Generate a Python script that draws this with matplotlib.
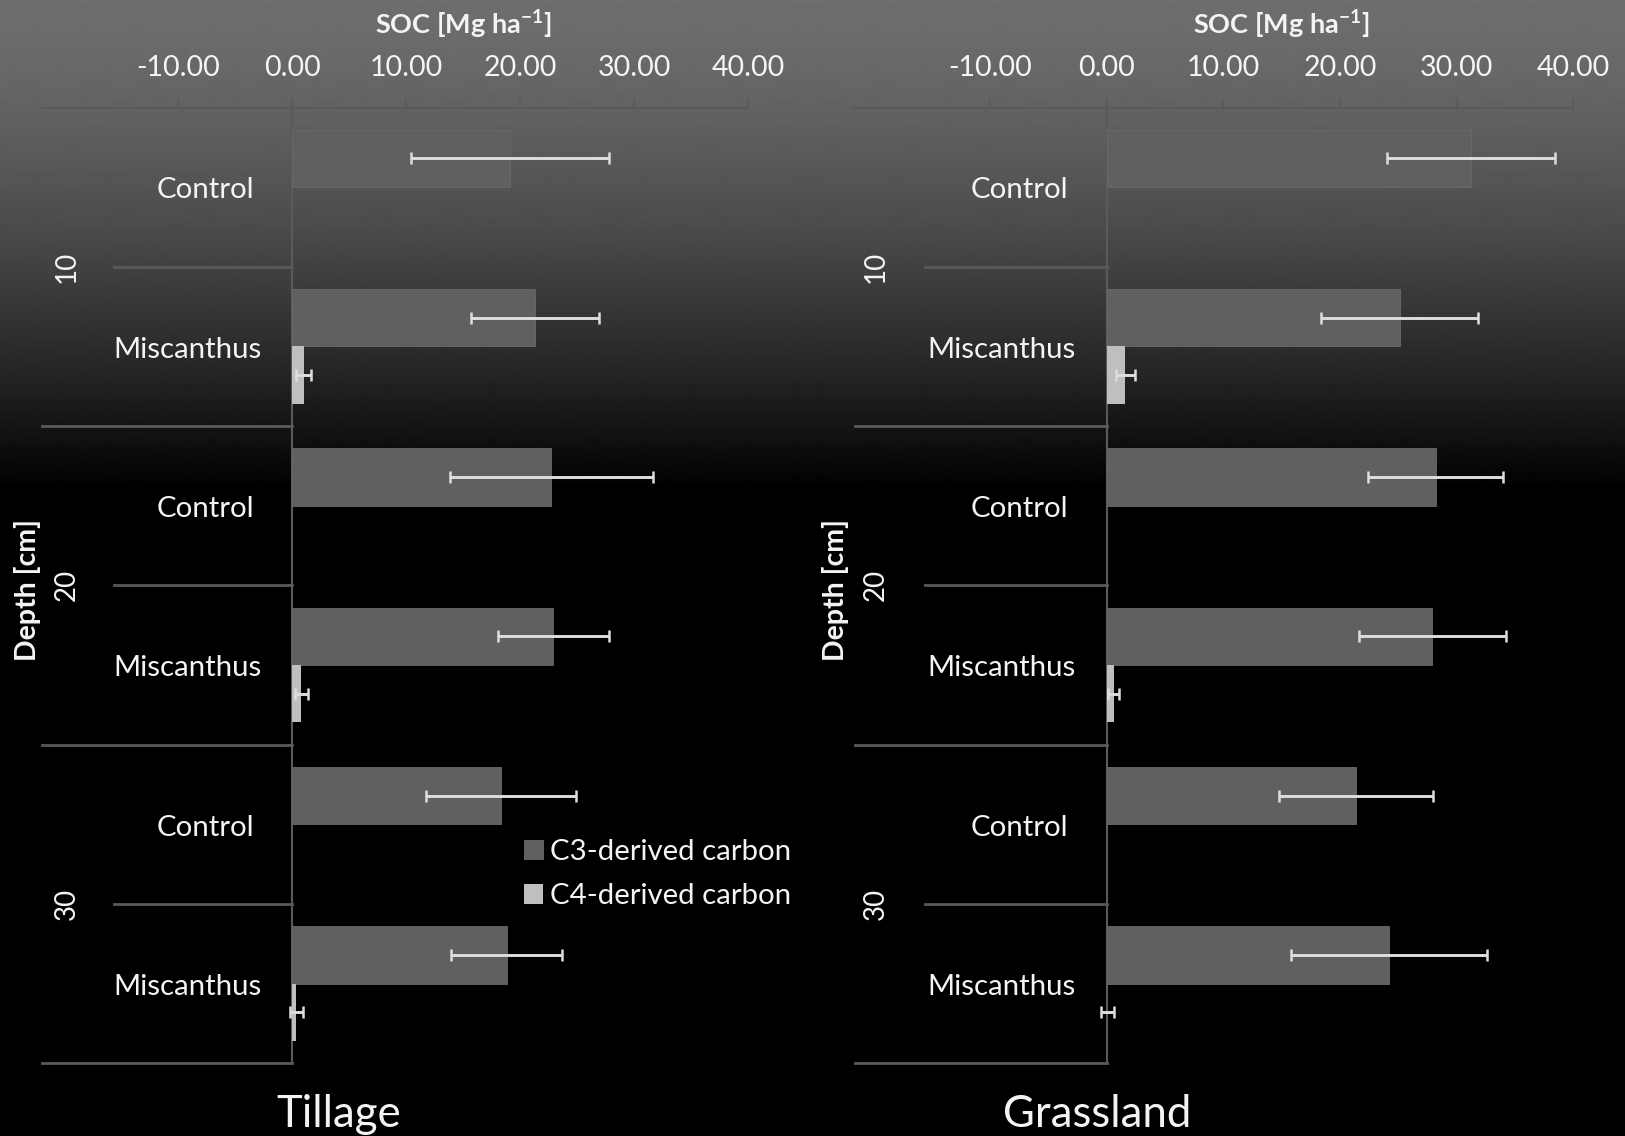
import numpy as np
import matplotlib
matplotlib.use("Agg")
import matplotlib.pyplot as plt

plt.rcParams['font.family'] = ['Lato', 'DejaVu Sans']
plt.rcParams['mathtext.fontset'] = 'custom'
plt.rcParams['mathtext.rm'] = 'Lato'
plt.rcParams['mathtext.bf'] = 'Lato:bold'

# data (Mg ha-1), top to bottom
depths = ["10", "20", "30"]
treatments = ["Control", "Miscanthus", "Control", "Miscanthus", "Control", "Miscanthus"]

tillage_c3 = [19.1, 21.3, 22.7, 22.9, 18.3, 18.8]
tillage_c3_err = [8.7, 5.6, 8.9, 4.9, 6.6, 4.9]
tillage_c4 = [0.0, 1.0, 0.0, 0.8, 0.0, 0.35]
tillage_c4_err = [0.0, 0.67, 0.0, 0.55, 0.0, 0.55]

grass_c3 = [31.2, 25.1, 28.2, 27.9, 21.4, 24.2]
grass_c3_err = [7.2, 6.7, 5.8, 6.3, 6.6, 8.4]
grass_c4 = [0.0, 1.6, 0.0, 0.6, 0.0, 0.05]
grass_c4_err = [0.0, 0.84, 0.0, 0.5, 0.0, 0.55]

xticks = [-10, 0, 10, 20, 30, 40]

C3_COL = "#606060"
C4_COL = "#bfbfbf"
LINE_COL = "#5a5a5a"
ERR_COL = "#dedede"
TXT = "#f4f4f4"

W, H = 1625, 1136
fig = plt.figure(figsize=(W / 100, H / 100), dpi=100)
fig.patch.set_facecolor("black")

# grey-to-black background fade at the top
bg = fig.add_axes([0, 0, 1, 1], zorder=-5)
yy = np.arange(H)
shade = 0.43 * (1 - np.clip(yy / 490.0, 0, 1) ** 1.5)
bg.imshow(shade[:, None], cmap="gray", vmin=0, vmax=1, aspect="auto",
          extent=[0, 1, 0, 1], interpolation="bilinear")
bg.axis("off")

y_top, y_bot = 107.5, 1063.3


def panel(left_px, right_px, xmin, c3, c3e, c4, c4e, name, name_x):
    ax = fig.add_axes([left_px / W, 1 - y_bot / H, (right_px - left_px) / W,
                       (y_bot - y_top) / H])
    ax.set_facecolor("none")
    pos = np.arange(len(c3))
    h = 0.36
    b3 = ax.barh(pos - 0.18, c3, height=h, color=C3_COL, label="C3-derived carbon",
                 edgecolor="#6a6a6a", linewidth=0.6, zorder=2)
    b4 = ax.barh(pos + 0.18, c4, height=h, color=C4_COL, label="C4-derived carbon",
                 zorder=2)
    c4 = np.array(c4)
    c4e = np.array(c4e)
    m = c4e > 0
    ax.errorbar(c3, pos - 0.18, xerr=c3e, fmt="none", ecolor=ERR_COL,
                elinewidth=2.1, capsize=4.6, capthick=1.8, zorder=3)
    ax.errorbar(c4[m], pos[m] + 0.18, xerr=c4e[m], fmt="none", ecolor=ERR_COL,
                elinewidth=2.1, capsize=4.6, capthick=1.8, zorder=3)

    ax.set_xlim(xmin, 40)
    ax.set_ylim(len(c3) - 0.5, -0.5)
    for s in ["left", "right", "bottom"]:
        ax.spines[s].set_visible(False)
    ax.spines["top"].set_color(LINE_COL)
    ax.spines["top"].set_linewidth(1.5)
    ax.set_xticks(xticks)
    ax.set_xticklabels(["%.2f" % v for v in xticks])
    ax.tick_params(axis="x", top=True, labeltop=True, bottom=False, labelbottom=False,
                   direction="out", length=7, width=1.2, color=LINE_COL,
                   labelcolor=TXT, labelsize=20.5, pad=12)
    ax.set_yticks([])

    # zero line and category separators
    ax.plot([0, 0], [-0.5, len(c3) - 0.5], color=LINE_COL, lw=1.5, zorder=1,
            clip_on=False)
    for k in range(len(depths)):
        ax.plot([xmin, 0], [2 * k + 1.5] * 2, color=LINE_COL, lw=2, clip_on=False)
        ax.plot([-15.6, 0], [2 * k + 0.5] * 2, color=LINE_COL, lw=2, clip_on=False)
        ax.text(-19.8, 2 * k + 0.5, depths[k], rotation=90, ha="center", va="center",
                color=TXT, fontsize=20)
    for i, t in enumerate(treatments):
        xr = -3.3 if t == "Control" else -2.7
        ax.text(xr, i + 0.02, t, ha="right", va="center", color=TXT, fontsize=21.2)
    ax.text(-23.2, (len(c3) - 1) / 2 + 0.03, "Depth [cm]", rotation=90, ha="center",
            va="center", color=TXT, fontsize=20.5, fontweight="bold", clip_on=False)
    fig.text((left_px + (15 - xmin) / (40 - xmin) * (right_px - left_px)) / W,
             1 - 24 / H, r"SOC [Mg ha$^{\mathbf{-1}}$]", ha="center", va="center",
             color=TXT, fontsize=19.5, fontweight="bold")
    fig.text(name_x / W, 1 - 1127 / H, name, ha="center", va="baseline",
             color=TXT, fontsize=31.5)
    return ax, b3, b4


axl, b3, b4 = panel(42, 748.3, -21.96, tillage_c3, tillage_c3_err, tillage_c4,
                    tillage_c4_err, "Tillage", 339)
panel(855.2, 1573.4, -21.55, grass_c3, grass_c3_err, grass_c4, grass_c4_err,
      "Grassland", 1097)

fig.legend(handles=[b3, b4], loc="upper left", bbox_to_anchor=(524 / W, 1 - 839 / H),
           frameon=False, fontsize=21.2, labelcolor=TXT, handlelength=0.65,
           handleheight=0.65, handletextpad=0.25, labelspacing=0.62, borderpad=0,
           borderaxespad=0)

fig.savefig("out.png", dpi=100, facecolor="black")
